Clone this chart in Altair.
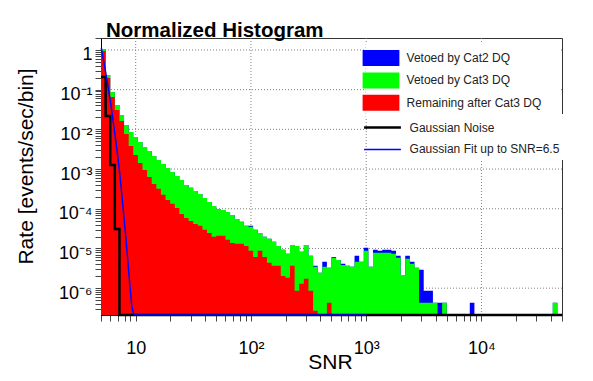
import altair as alt
import numpy as np
import pandas as pd

FONT = "Liberation Sans"
SNR_MIN, SNR_MAX = 5, 50000
N_BINS = 100
RATE_FLOOR = 1e-12  # empty bins, clamped to the bottom of the log axis

# ---- histogram contents (rate per bin) ----
cat2_total = [
    1.06, 0.235, 0.0877, 0.0412, 0.0231, 0.0129, 0.00863, 0.00645, 0.00483, 0.00361,
    0.00287, 0.00214, 0.00170, 0.00135, 0.00107, 8.49e-4, 6.73e-4, 5.33e-4, 3.99e-4, 3.36e-4,
    2.82e-4, 2.37e-4, 1.88e-4, 1.49e-4, 1.18e-4, 9.93e-5, 9.37e-5, 8.34e-5, 7.01e-5, 5.56e-5,
    4.68e-5, 3.71e-5, 3.71e-5, 2.94e-5, 2.47e-5, 1.96e-5, 1.75e-5, 1.47e-5, 1.16e-5, 9.22e-6,
    7.31e-6, 1.23e-5, 1.16e-5, 8.21e-6, 1.23e-5, 6.51e-6, 3.65e-6, 2.43e-6, 4.60e-6, 3.25e-6,
    6.14e-6, 5.16e-6, 4.10e-6, 3.65e-6, 3.44e-6, 6.51e-6, 4.60e-6, 1.04e-5, 3.44e-6, 9.22e-6,
    8.71e-6, 9.22e-6, 9.22e-6, 8.71e-6, 6.51e-6, 2.16e-6, 6.51e-6, 4.60e-6, 3.25e-6, 2.89e-6,
    8.6e-7, 8.6e-7, 4.3e-7, 4.3e-7, 4.3e-7, 0, 0, 0, 0, 0,
    4.3e-7, 0, 0, 0, 0, 0, 0, 0, 0, 0,
    0, 0, 0, 0, 0, 0, 0, 0, 4.3e-7, 0,
]
cat3 = [
    1.06, 0.235, 0.0877, 0.0412, 0.0231, 0.0129, 0.00863, 0.00645, 0.00483, 0.00361,
    0.00287, 0.00214, 0.00170, 0.00135, 0.00107, 8.49e-4, 6.73e-4, 5.33e-4, 3.99e-4, 3.36e-4,
    2.82e-4, 2.37e-4, 1.88e-4, 1.49e-4, 1.18e-4, 9.93e-5, 9.37e-5, 8.34e-5, 7.01e-5, 5.56e-5,
    4.68e-5, 3.71e-5, 3.50e-5, 2.94e-5, 2.47e-5, 1.96e-5, 1.75e-5, 1.47e-5, 1.16e-5, 9.22e-6,
    7.31e-6, 1.23e-5, 1.16e-5, 8.21e-6, 1.23e-5, 6.51e-6, 3.44e-6, 2.43e-6, 3.44e-6, 3.25e-6,
    5.80e-6, 5.16e-6, 3.86e-6, 3.65e-6, 3.44e-6, 4.60e-6, 4.60e-6, 8.71e-6, 3.44e-6, 7.75e-6,
    7.75e-6, 7.75e-6, 7.75e-6, 7.31e-6, 5.80e-6, 2.16e-6, 5.47e-6, 4.10e-6, 3.25e-6, 4.3e-7,
    4.3e-7, 4.3e-7, 4.3e-7, 0, 4.3e-7, 0, 0, 0, 0, 0,
    0, 0, 0, 0, 0, 0, 0, 0, 0, 0,
    0, 0, 0, 0, 0, 0, 0, 0, 4.3e-7, 0,
]
remaining = [
    0.944, 0.197, 0.0656, 0.0308, 0.0163, 0.00767, 0.00383, 0.00227, 0.00143, 9.53e-4,
    6.35e-4, 4.23e-4, 3.17e-4, 2.24e-4, 1.67e-4, 1.33e-4, 1.05e-4, 7.43e-5, 5.89e-5, 4.95e-5,
    4.16e-5, 3.71e-5, 2.94e-5, 2.47e-5, 1.96e-5, 2.08e-5, 2.08e-5, 1.65e-5, 1.38e-5, 1.31e-5,
    1.31e-5, 1.16e-5, 8.71e-6, 6.14e-6, 8.71e-6, 6.14e-6, 4.34e-6, 3.65e-6, 3.65e-6, 2.04e-6,
    1.82e-6, 3.65e-6, 8.6e-7, 1.29e-6, 1.72e-6, 8.6e-7, 2.7e-7, 0, 0, 4.3e-7,
    0, 0, 0, 0, 0, 0, 0, 0, 0, 0,
    0, 0, 0, 0, 0, 0, 0, 0, 0, 0,
    0, 0, 0, 0, 0, 0, 0, 0, 0, 0,
    0, 0, 0, 0, 0, 0, 0, 0, 0, 0,
    0, 0, 0, 0, 0, 0, 0, 0, 0, 0,
]
noise = [0.209, 0.0218, 0.00127, 3.11e-5] + [0] * 96

# Gaussian fit curve (0 = below the axis)
fit_snr = [5.03, 5.48, 6.06, 6.70, 7.05, 7.41, 8.19, 8.87, 9.23, 9.51, 9.8, 1000]
fit_rate = [1.12, 0.279, 0.0463, 0.00542, 0.0017, 4.48e-4, 2.08e-5, 1.36e-6, 3.8e-7, 2.4e-7, 0, 0]

series_names = ["Vetoed by Cat2 DQ", "Vetoed by Cat3 DQ", "Remaining after Cat3 DQ"]
series_colors = ["#0000ff", "#00ff00", "#ff0000"]
line_names = ["Gaussian Noise", "Gaussian Fit up to SNR=6.5"]
line_colors = ["#000000", "#0000ff"]
line_widths = [2.5, 1.5]

x_major = [10, 100, 1000, 10000]
x_major_labels = ["10", "10²", "10³", "10⁴"]
y_major = [1e-6, 1e-5, 1e-4, 1e-3, 1e-2, 1e-1, 1]
y_major_labels = ["10⁻⁶", "10⁻⁵", "10⁻⁴", "10⁻³", "10⁻²", "10⁻¹", "1"]
Y_DOMAIN = [2.11e-7, 2.0]

# ---- tables ----
edges = np.logspace(np.log10(SNR_MIN), np.log10(SNR_MAX), N_BINS + 1)


def steps(name, vals):
    v = [x if x > 0 else RATE_FLOOR for x in vals]
    v = v + [v[-1]]
    return pd.DataFrame({"snr": edges, "rate": v, "series": name})


hist = pd.concat([steps(n, v) for n, v in zip(series_names, [cat2_total, cat3, remaining])],
                 ignore_index=True)
df_noise = steps(line_names[0], noise)
df_fit = pd.DataFrame({"snr": fit_snr,
                       "rate": [r if r > 0 else RATE_FLOOR for r in fit_rate],
                       "series": line_names[1]})

x_ticks = sorted(set([m * 10 ** e for e in range(0, 5) for m in range(1, 10)
                      if SNR_MIN <= m * 10 ** e <= SNR_MAX]))
y_ticks = [float(f"{m}e{e}") for e in range(-7, 1) for m in range(1, 10)
           if Y_DOMAIN[0] <= float(f"{m}e{e}") <= Y_DOMAIN[1]]


def label_expr(vals, labels):
    expr = "''"
    for v, l in reversed(list(zip(vals, labels))):
        expr = f"datum.value == {v!r} ? '{l}' : {expr}"
    return expr


xs = alt.Scale(type="log", domain=[SNR_MIN, SNR_MAX], nice=False)
ys = alt.Scale(type="log", domain=Y_DOMAIN, nice=False, clamp=True)

x_axis = alt.Axis(values=x_ticks, labelExpr=label_expr(x_major, x_major_labels), grid=False,
                  tickSize=6, tickColor="#444", domainColor="#000",
                  labelFont=FONT, labelFontSize=18, labelColor="black",
                  labelBaseline="alphabetic", labelPadding=32, labelOverlap=False, labelFlush=False,
                  title="SNR", titleFont=FONT, titleFontSize=21, titleFontWeight="normal",
                  titleColor="black", titleX=229, titleY=53, titleBaseline="alphabetic")
y_axis = alt.Axis(values=y_ticks, labelExpr=label_expr(y_major, y_major_labels), grid=False,
                  tickSize=6, tickColor="#444", domainColor="#000",
                  labelFont=FONT, labelFontSize=18, labelColor="black",
                  labelBaseline="middle", labelOffset=5, labelPadding=3, labelOverlap=False,
                  labelFlush=False,
                  title="Rate [events/sec/bin]", titleFont=FONT, titleFontSize=21,
                  titleFontWeight="normal", titleColor="black", titleX=-69, titleY=128,
                  titleAngle=270, titleAlign="center", titleBaseline="alphabetic")

fill_scale = alt.Scale(domain=series_names, range=series_colors)
# an invisible title on the right only widens the white legend box up to the frame
fill_legend = alt.Legend(title="W", titleOrient="right", titleOpacity=0, titleFontSize=12,
                         titleFontWeight="normal", titlePadding=0,
                         orient="none", legendX=265, legendY=5,
                         symbolType="M-2.3,-1H2.3V1H-2.3Z", symbolSize=256, symbolStrokeWidth=0,
                         labelFont=FONT, labelFontSize=12, labelColor="#222", labelOffset=17.6,
                         rowPadding=6.4, padding=7, fillColor="white")
line_scale = alt.Scale(domain=line_names, range=line_colors)
width_scale = alt.Scale(domain=line_names, range=line_widths)
line_legend = alt.Legend(title=None, orient="none", legendX=268, legendY=76,
                         symbolType="M-2.3,0H2.3", symbolSize=256,
                         labelFont=FONT, labelFontSize=12, labelColor="#222", labelOffset=17.6,
                         rowPadding=6.4, padding=4, fillColor="white")

grid_style = dict(color="#808080", strokeDash=[1, 2], strokeWidth=1)
grid_x = alt.Chart(pd.DataFrame({"snr": x_major})).mark_rule(**grid_style).encode(
    x=alt.X("snr:Q", scale=xs, axis=x_axis))
grid_y = alt.Chart(pd.DataFrame({"rate": y_major})).mark_rule(**grid_style).encode(
    y=alt.Y("rate:Q", scale=ys, axis=y_axis))


def area_layer(name):
    return alt.Chart(hist).transform_filter(alt.datum.series == name).mark_area(
        interpolate="step-after").encode(
        x=alt.X("snr:Q", scale=xs, axis=x_axis),
        y=alt.Y("rate:Q", scale=ys, axis=y_axis, stack=None),
        y2=alt.value("height"),
        fill=alt.Fill("series:N", scale=fill_scale, legend=fill_legend),
    )


def line_layer(df, interp):
    return alt.Chart(df).mark_line(interpolate=interp).encode(
        x=alt.X("snr:Q", scale=xs, axis=x_axis),
        y=alt.Y("rate:Q", scale=ys, axis=y_axis),
        stroke=alt.Stroke("series:N", scale=line_scale, legend=line_legend),
        strokeWidth=alt.StrokeWidth("series:N", scale=width_scale, legend=line_legend),
    )


chart = alt.layer(
    grid_x, grid_y,
    area_layer(series_names[0]), area_layer(series_names[1]), area_layer(series_names[2]),
    line_layer(df_noise, "step-after"), line_layer(df_fit, "linear"),
).properties(
    width=461, height=277,
    padding={"left": 93, "top": 30, "right": 23, "bottom": 62},
    autosize=alt.AutoSizeParams(type="none"),
    title=alt.TitleParams("Normalized Histogram", anchor="start", frame="group", font=FONT,
                          fontSize=20.5, fontWeight="bold", color="black", dx=5, dy=23, offset=0,
                          baseline="alphabetic"),
    background="white",
).configure_view(stroke="#333", strokeWidth=1)

chart.save("out.html", embed_options={"renderer": "svg", "actions": False})
